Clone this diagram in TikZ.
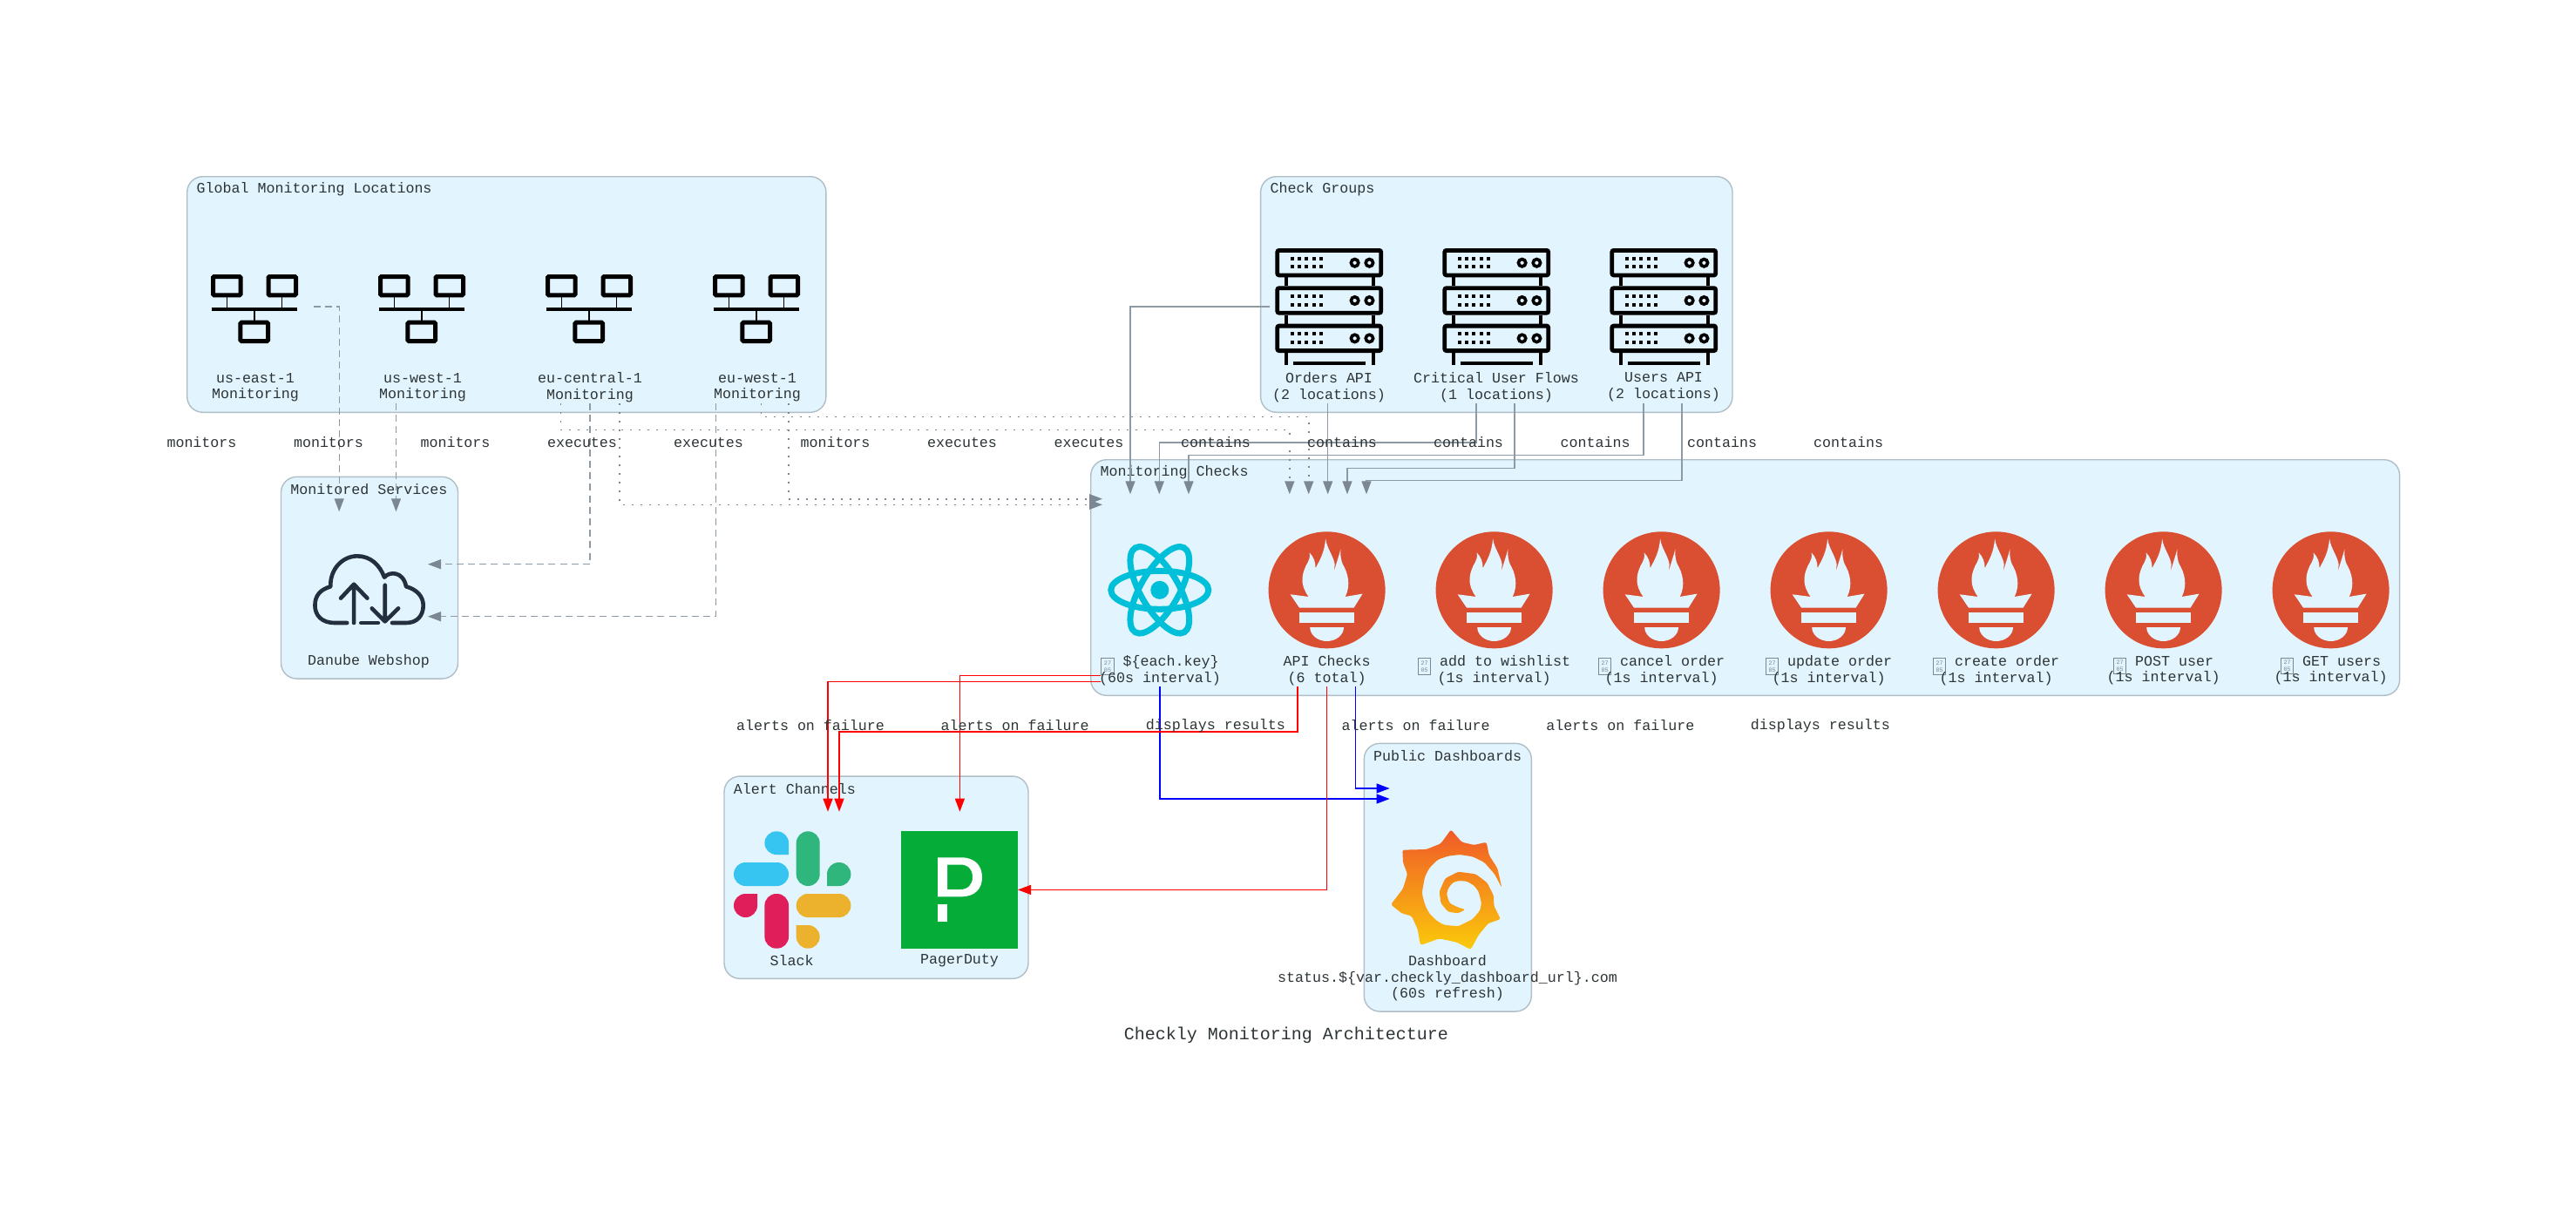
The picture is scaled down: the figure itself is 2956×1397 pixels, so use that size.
\documentclass[tikz,border=0pt]{standalone}
\usepackage{fontspec}
\setmainfont{Liberation Mono}
\usepackage{xcolor}
\definecolor{groupfill}{HTML}{E2F4FD}
\definecolor{groupline}{HTML}{B0BEC5}
\definecolor{textdark}{HTML}{2D3436}
\definecolor{edgeline}{HTML}{8D99A5}
\definecolor{edgetip}{HTML}{7B8894}
\definecolor{promred}{HTML}{DA4F32}
\definecolor{reactcyan}{HTML}{00BFD8}
\definecolor{clouddark}{HTML}{232F3E}
\definecolor{pdgreen}{HTML}{06AC38}
\definecolor{slackblue}{HTML}{36C5F0}
\definecolor{slackgreen}{HTML}{2EB67D}
\definecolor{slackred}{HTML}{E01E5A}
\definecolor{slackyellow}{HTML}{ECB22E}
\definecolor{grafanatop}{HTML}{F05A28}
\definecolor{grafanabottom}{HTML}{FBCA0A}
\usetikzlibrary{arrows.meta}
\newcommand{\tofubox}{\smash{\raisebox{-2.2pt}{\textcolor{edgetip}{\fboxsep=0.3pt\fboxrule=0.5pt\fbox{\parbox[c][8pt][c]{6pt}{\centering\fontsize{3.4}{4}\selectfont 27\\05}}}}}}
\tikzset{
  groupbox/.style={draw=groupline,fill=groupfill,line width=0.7pt,rounded corners=9pt,inner sep=0pt,outer sep=0pt},
  svcbox/.style={minimum width=68pt,minimum height=111pt,inner sep=0pt,outer sep=0pt},
  lbl/.style={text=textdark,align=center,inner sep=0pt,font=\fontsize{8.33}{9.3}\selectfont},
  edgelbl/.style={lbl},
  grouplbl/.style={lbl,anchor=west},
  greyedge/.style={draw=edgeline,line width=0.65pt,-{Triangle[length=7.5pt,width=5.5pt,color=edgetip]}},
  dashedge/.style={greyedge,dash pattern=on 4pt off 2.6pt},
  dotedge/.style={greyedge,draw=edgetip,line width=0.8pt,dash pattern=on 1pt off 4pt},
  rededge/.style={draw=red,line width=0.6pt,-{Triangle[length=7.5pt,width=5.5pt]}},
  blueedge/.style={draw=blue,line width=0.6pt,-{Triangle[length=7.5pt,width=5.5pt]}},
}
\begin{document}
\begin{tikzpicture}[x=0.5pt,y=-0.5pt]
  \useasboundingbox (0,0) rectangle (2956,1397);
  \fill[white] (0,0) rectangle (2956,1397);

  % Groups
  \foreach \name/\cx/\cy/\w/\h/\txt in {
    locations/581.3/338/733.2/270.6/Global Monitoring Locations,
    services/424/663.2/203/231.7/Monitored Services,
    groups/1717.3/338/541.4/270.6/Check Groups,
    checks/2002.7/663/1501.9/270.6/Monitoring Checks,
    channels/1005.5/1007.2/349/232.3/Alert Channels,
    dashboards/1661.3/1007.2/192/307.7/Public Dashboards} {
    \node[groupbox,minimum width=\w*0.5pt,minimum height=\h*0.5pt] (\name) at (\cx,\cy) {};
    \node[grouplbl] (\name-lbl) at ([shift={(10.5,14)}]\name.north west) {\txt};
  }

  % Locations
  \foreach \name/\cx/\txt in {usEast/292/us-east-1\\Monitoring, usWest/484/us-west-1\\Monitoring,
    euCentral/676/eu-central-1\\Monitoring, euWest/868/eu-west-1\\Monitoring} {
    \node[svcbox] (\name) at (\cx,352) {};
    \node[lbl] (\name-lbl) at (\cx+1,444.5) {\txt};
    \begin{scope}[shift={(\cx,0)}]
      \draw[line width=2.5pt,rounded corners=0.6pt] (-47.5,317.5) rectangle (-16,338.8);
      \draw[line width=2.5pt,rounded corners=0.6pt] (16,317.5) rectangle (47.5,338.8);
      \draw[line width=2.5pt,rounded corners=0.6pt] (-16.1,370.2) rectangle (15.5,391.5);
      \draw[line width=1.9pt] (-49.2,354.7) -- (48.7,354.7);
      \draw[line width=0.8pt] (-31.4,341) -- (-31.4,354) (31.4,341) -- (31.4,354) (-0.3,354) -- (-0.3,368);
    \end{scope}
  }

  % Servers
  \foreach \name/\cx/\txt in {orders/1525/Orders API\\(2 locations), critical/1717/Critical User Flows\\(1 locations),
    users/1909/Users API\\(2 locations)} {
    \node[svcbox] (\name) at (\cx,352) {};
    \node[lbl] (\name-lbl) at (\cx,444.5) {\txt};
    \begin{scope}[shift={(\cx,0)}]
      \foreach \uy in {285,328.3,371.7} {
        \draw[line width=2.4pt,rounded corners=1pt] (-59.2,\uy+2.4) rectangle (59.7,\uy+30.9);
        \foreach \dx in {-42.3,-34,-25.7,-17.4,-9} {
          \fill (\dx-2,\uy+9.7) rectangle (\dx+2,\uy+13.7);
          \fill (\dx-2,\uy+19.3) rectangle (\dx+2,\uy+23.3);
        }
        \draw[line width=1.8pt] (29.6,\uy+16.7) circle[radius=4.2];
        \draw[line width=1.8pt] (46.4,\uy+16.7) circle[radius=4.2];
      }
      \draw[line width=2.2pt] (-49,318.3) -- (-49,328.3) (51,318.3) -- (51,328.3);
      \draw[line width=2.2pt] (-49,361.7) -- (-49,371.7) (51,361.7) -- (51,371.7);
      \draw[line width=2.2pt] (-49,405) -- (-49,419) (51,405) -- (51,419);
      \fill (-41,414.5) rectangle (42,419);
    \end{scope}
  }

  % Checks
  \foreach \name/\cx/\txt in {eachKey/1331/\tofubox{} \$\{each.key\}\\(60s interval),
    apiChecks/1522.6/API Checks\\(6 total),
    wishlist/1714.6/\tofubox{} add to wishlist\\(1s interval),
    cancelOrder/1906.6/\tofubox{} cancel order\\(1s interval),
    updateOrder/2098.6/\tofubox{} update order\\(1s interval),
    createOrder/2290.6/\tofubox{} create order\\(1s interval),
    postUser/2482.6/\tofubox{} POST user\\(1s interval),
    getUsers/2674.6/\tofubox{} GET users\\(1s interval)} {
    \node[svcbox] (\name) at (\cx,677) {};
    \node[lbl] (\name-lbl) at (\cx,769.5) {\txt};
  }
  \foreach \cx in {1522.6,1714.6,1906.6,2098.6,2290.6,2482.6,2674.6} {
    \begin{scope}[shift={(\cx,677.3)}]
      \fill[promred] (0,0) circle[radius=67];
      \fill[groupfill] (-42,5) -- (-21,7.7) .. controls (-30,-5) and (-30,-15) .. (-24,-28)
        .. controls (-20,-35) and (-19,-38) .. (-20,-43) .. controls (-15,-38) and (-13,-32) .. (-13,-25)
        .. controls (-8,-35) and (-3,-42) .. (-1.5,-59) .. controls (0,-48) and (7,-40) .. (9,-30)
        .. controls (9,-25) and (8,-22) .. (7.7,-18) .. controls (9,-26) and (13,-36) .. (15.8,-47)
        .. controls (15,-38) and (17,-33) .. (18,-30) .. controls (24,-20) and (28,-6) .. (21,7.7)
        -- (41,4.3) -- (31,20.3) -- (-31.6,20.3) -- cycle;
      \fill[groupfill] (-31.6,26) rectangle (31,37.7);
      \fill[groupfill] (-19.4,42.7) -- (19.4,42.7) .. controls (19.4,52) and (10,58.7) .. (0,58.7)
        .. controls (-10,58.7) and (-19.4,52) .. (-19.4,42.7) -- cycle;
    \end{scope}
  }

  % React
  \begin{scope}[shift={(1330.8,677.3)}]
    \foreach \ang in {0,60,120} {
      \draw[reactcyan,line width=3.5pt,rotate=\ang] (0,0) ellipse[x radius=56,y radius=22];
    }
    \fill[reactcyan] (0,0) circle[radius=10.5];
    \draw[reactcyan,line width=1.4pt] (-24,0) -- (-12,-21) -- (12,-21) -- (24,0) -- (12,21) -- (-12,21) -- cycle;
  \end{scope}

  % Webshop
  \node[svcbox] (webshop) at (424,676) {};
  \node[lbl] (webshop-lbl) at (423,759) {Danube Webshop};
  \begin{scope}[shift={(300,530)},x=0.17857pt,y=-0.16667pt,clouddark,line width=2.3pt,line cap=round,line join=round]
    \draw (275,555) -- (235,555) .. controls (195,555) and (172,530) .. (172,495)
      .. controls (172,460) and (190,440) .. (222,430) .. controls (220,370) and (260,325) .. (308,325)
      .. controls (350,325) and (380,355) .. (395,398) .. controls (410,378) and (455,375) .. (465,430)
      .. controls (500,440) and (520,465) .. (520,495) .. controls (520,530) and (500,555) .. (465,555) -- (420,555);
    \draw (320,555) -- (375,555);
    \draw (297,555) -- (297,425) (255,470) -- (297,422) -- (340,470);
    \draw (397,425) -- (397,548) (355,505) -- (397,550) -- (440,505);
  \end{scope}

  % Slack
  \node[lbl] (slack-lbl) at (908.6,1103) {Slack};
  \fill[slackblue,rounded corners=6.7pt] (842,990) rectangle (905,1017);
  \fill[slackblue] (905,981) [rounded corners=6.7pt] -- (905,954.3) -- (877.4,954.3) -- (877.4,981) [sharp corners] -- (905,981);
  \fill[slackgreen,rounded corners=6.7pt] (913.7,954.3) rectangle (940.7,1017);
  \fill[slackgreen] (949,1017) [rounded corners=6.7pt] -- (949,990) -- (976.4,990) -- (976.4,1017) [sharp corners] -- (949,1017);
  \fill[slackred,rounded corners=6.7pt] (877.4,1026) rectangle (905,1088.7);
  \fill[slackred] (869,1026) [rounded corners=6.7pt] -- (869,1053) -- (842,1053) -- (842,1026) [sharp corners] -- (869,1026);
  \fill[slackyellow,rounded corners=6.7pt] (913.7,1026) rectangle (976.4,1053);
  \fill[slackyellow] (913.7,1062) [rounded corners=6.7pt] -- (913.7,1088.7) -- (940.7,1088.7) -- (940.7,1062) [sharp corners] -- (913.7,1062);

  % PagerDuty
  \node[fill=pdgreen,minimum width=67pt,minimum height=67.3pt,inner sep=0pt,outer sep=0pt] (pagerDuty) at (1101,1021.4) {};
  \node[lbl] (pagerDuty-lbl) at (1101,1103) {PagerDuty};
  \fill[white,even odd rule] (1076,984.3) -- (1103,984.3) .. controls (1119,984.3) and (1127,994) .. (1127,1007)
    .. controls (1127,1020) and (1119,1029.3) .. (1103,1029.3) -- (1076,1029.3) -- cycle
    (1087,992.5) -- (1102,992.5) .. controls (1111,992.5) and (1116,998) .. (1116,1007)
    .. controls (1116,1015) and (1111,1021) .. (1102,1021) -- (1087,1021) -- cycle;
  \fill[white] (1076,1038) rectangle (1087,1057.7);

  % Grafana
  \node[lbl] (dashboard-lbl) at (1661,1122.8) {Dashboard\\status.\$\{var.checkly\_dashboard\_url\}.com\\(60s refresh)};
  \begin{scope}[shift={(1440,840)},x=0.16667pt,y=-0.16667pt]
    \shade[top color=grafanatop,bottom color=grafanabottom,rounded corners=1.2pt]
      (675,337) -- (712,380) -- (755,390) -- (797,380) -- (806,425) -- (835,470) -- (850,537)
      -- (825,490) -- (790,450) -- (750,430) -- (705,423) -- (665,428) -- (630,440) -- (600,470) -- (585,500) -- (575,555)
      -- (585,595) -- (600,625) -- (625,650) -- (650,665) -- (700,670) -- (750,645) -- (775,615) -- (780,590) -- (770,550)
      -- (755,530) -- (730,515) -- (700,513) -- (680,520) -- (665,540) -- (660,560) -- (670,590) -- (700,605) -- (725,612)
      -- (700,625) -- (665,620) -- (640,590) -- (635,550) -- (655,505) -- (700,482) -- (760,490) -- (800,520) -- (822,565)
      -- (823,600) -- (846,645) -- (803,660) -- (770,700) -- (743,750) -- (695,725) -- (635,712) -- (570,735) -- (560,680)
      -- (540,635) -- (505,625) -- (468,595) -- (510,540) -- (525,490) -- (510,450) -- (508,407) -- (590,405) -- (640,385) -- cycle;
  \end{scope}
  \node[svcbox] (dashboard) at (1661,1000) {};

  % Arrow ends
  \foreach \name/\x/\y in {tipUsEast/389.2/587.3, tipUsWest/454.5/587.3, tipWebA/491/647.7, tipWebB/491/707.7,
    tipChkA/1479.8/567.3, tipChkB/1501.7/567.3, tipChkC/1265/579.3, tipChkD/1265/572.7,
    tipOrdA/1297/567.3, tipOrdB/1523.7/567.3, tipCritA/1330.3/567.3, tipCritB/1546/567.3,
    tipUsrA/1364/567.3, tipUsrB/1568/567.3, tipDashA/1594.6/905, tipDashB/1594.6/917,
    tipSlackA/950/931.7, tipSlackB/963/931.7, tipPager/1101.4/931.7} {
    \coordinate (\name) at (\x,\y);
  }

  % Monitors and executes
  \draw[dashedge] (usEast.east) -| (tipUsEast);
  \draw[dashedge] (tipUsWest |- usWest.south) -- (tipUsWest);
  \draw[dashedge] ([shift={(1,0)}]euCentral.south) |- (tipWebA);
  \draw[dashedge] ([shift={(-46.7,0)}]euWest.south) |- (tipWebB);
  \draw[dotedge] ([shift={(-32.7,0)}]euCentral.south) -- ++(0,30.3) -| (tipChkA);
  \draw[dotedge] ([shift={(35,0)}]euCentral.south) |- (tipChkC);
  \draw[dotedge] ([shift={(5.4,0)}]euWest.south) -- ++(0,15.3) -| (tipChkB);
  \draw[dotedge] ([shift={(37,0)}]euWest.south) |- (tipChkD);

  % Contains
  \draw[greyedge] (orders.west) -| (tipOrdA);
  \draw[greyedge] (tipOrdB |- orders.south) -- (tipOrdB);
  \foreach \src/\dx/\drop/\tip in {critical/-23/45/tipCritA, critical/21/74.3/tipCritB,
    users/-23/59.3/tipUsrA, users/21/88.7/tipUsrB} {
    \draw[greyedge] ([shift={(\dx,0)}]\src.south) -- ++(0,\drop) -| (\tip);
  }

  % Alerts and dashboards
  \draw[blueedge] (eachKey.south) |- (tipDashB);
  \draw[blueedge] ([shift={(33.2,0)}]apiChecks.south) |- (tipDashA);
  \draw[rededge] ([shift={(-33.6,0)}]apiChecks.south) -- ++(0,52) -| (tipSlackB);
  \draw[rededge] (apiChecks.south) |- (pagerDuty.east);
  \draw[rededge] ([shift={(0,98.7)}]eachKey.west) -| (tipPager);
  \draw[rededge] ([shift={(0,105.7)}]eachKey.west) -| (tipSlackA);

  % Edge labels
  \foreach \x/\txt [count=\i] in {231.5/monitors,377/monitors,522.5/monitors,668/executes,813/executes,958.5/monitors,
    1104/executes,1249.5/executes,1395/contains,1540/contains,1685/contains,1830.5/contains,1976/contains,2121/contains} {
    \node[edgelbl] (top-lbl\i) at (\x,508) {\txt};
  }
  \foreach \x/\txt [count=\i] in {930/alerts on failure,1164.7/alerts on failure,1394.8/displays results,
    1624.7/alerts on failure,1859.4/alerts on failure,2088.8/displays results} {
    \node[edgelbl] (bottom-lbl\i) at (\x,832.7) {\txt};
  }

  % Title
  \node[text=textdark,inner sep=0pt,font=\fontsize{10}{12}\selectfont] (title) at (1476,1188) {Checkly Monitoring Architecture};
\end{tikzpicture}
\end{document}
